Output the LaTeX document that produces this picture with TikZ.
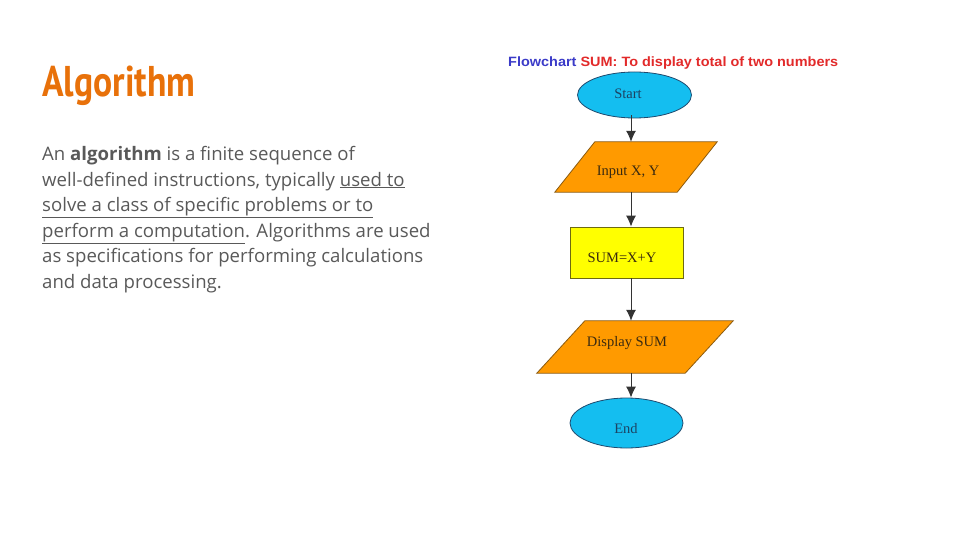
\documentclass[tikz,border=0pt]{standalone}
\usepackage{fontspec}
\usepackage{graphicx}
\usetikzlibrary{shapes.geometric,arrows.meta,calc}
\setmainfont{Open Sans}
\newfontfamily\headfont{PT Sans}
\newfontfamily\fcsans{Liberation Sans}
\newfontfamily\fcserif{Liberation Serif}
\definecolor{headorange}{HTML}{E8710A}
\definecolor{bodygrey}{HTML}{595959}
\definecolor{fcblue}{HTML}{3B3BC8}
\definecolor{fcred}{HTML}{E22A2A}
\definecolor{termfill}{HTML}{14BEF0}
\definecolor{termline}{HTML}{1F4A6E}
\definecolor{iofill}{HTML}{FF9A00}
\definecolor{ioline}{HTML}{8A5A10}
\definecolor{procfill}{HTML}{FFFF00}
\definecolor{procline}{HTML}{6E6A10}
\definecolor{fctext}{HTML}{3A2A10}
\tikzset{
  bodyline/.style={anchor=base west, inner sep=0pt, text=bodygrey,
    font=\fontsize{18.6}{25.6}\selectfont},
  terminal/.style={ellipse, draw=termline, fill=termfill, line width=0.8pt,
    inner sep=0pt},
  iobox/.style={draw=ioline, fill=iofill, line width=0.8pt, line join=miter},
  procbox/.style={rectangle, draw=procline, fill=procfill, line width=0.8pt,
    inner sep=0pt},
  anchorbox/.style={rectangle, draw=none, inner sep=0pt},
  fclabel/.style={inner sep=0pt, text=fctext, font=\fcserif\fontsize{14.5}{16}\selectfont},
  flow/.style={draw=black!80, line width=1pt,
    -{Latex[length=11pt,width=10pt]}},
}
\begin{document}
\begin{tikzpicture}[x=1pt,y=-1pt]
\useasboundingbox (0,0) rectangle (960,540);

% heading
\node[anchor=base west, inner sep=0pt, text=headorange] (head) at (42,97)
  {\resizebox{153pt}{\height}{\headfont\bfseries\fontsize{43}{43}\selectfont Algorithm}};

% paragraph, one node per line
\node[bodyline] (l1) at (42,160.5) {An \textbf{algorithm} is a finite sequence of};
\node[bodyline] (l2) at (42,186.1) {well-defined instructions, typically \underline{used to}};
\node[bodyline] (l3) at (42,211.7) {\underline{solve a class of specific problems or to}};
\node[bodyline] (l4) at (42,237.3) {\underline{perform a computation}. Algorithms are used};
\node[bodyline] (l5) at (42,262.9) {as specifications for performing calculations};
\node[bodyline] (l6) at (42,288.5) {and data processing.};

% flowchart heading
\node[anchor=base west, inner sep=0pt] (fctitle) at (508,67)
  {\resizebox{330pt}{\height}{\fcsans\bfseries\fontsize{13.5}{14}\selectfont
   \textcolor{fcblue}{Flowchart} \textcolor{fcred}{SUM: To display total of two numbers}}};

% column the connectors run down
\coordinate (axis) at (631,0);

% shapes
\node[terminal, minimum width=114pt, minimum height=46pt] (start) at (634.5,95) {};
\node[anchorbox, minimum width=162pt, minimum height=50pt] (inp) at (636,167) {};
\draw[iobox] (inp.south west) -- ($(inp.north west)+(40,0)$) -- (inp.north east)
  -- ($(inp.south east)-(40,0)$) -- cycle;
\node[procbox, minimum width=113pt, minimum height=51pt] (sum) at (626.5,252.5) {};
\node[anchorbox, minimum width=196pt, minimum height=52pt] (disp) at (635,347) {};
\draw[iobox] (disp.south west) -- ($(disp.north west)+(48,0)$) -- (disp.north east)
  -- ($(disp.south east)-(48,0)$) -- cycle;
\node[terminal, minimum width=113pt, minimum height=50pt] (stop) at (626.5,423) {};

% labels
\node[fclabel, text=termline!90!black] (startlbl) at (628,94) {Start};
\node[fclabel] (inplbl) at (628,172) {Input X, Y};
\node[fclabel] (sumlbl) at (622,258) {SUM=X+Y};
\node[fclabel] (displbl) at (627,343) {Display SUM};
\node[fclabel, text=termline!90!black] (stoplbl) at (626,429) {End};

% connectors
\draw[flow] (axis |- start.south) ++(0,-3) -- (axis |- inp.north);
\draw[flow] (axis |- inp.south) -- (axis |- sum.north);
\draw[flow] (axis |- sum.south) -- (axis |- disp.north);
\draw[flow] (axis |- disp.south) -- (axis |- stop.north);
\end{tikzpicture}
\end{document}
